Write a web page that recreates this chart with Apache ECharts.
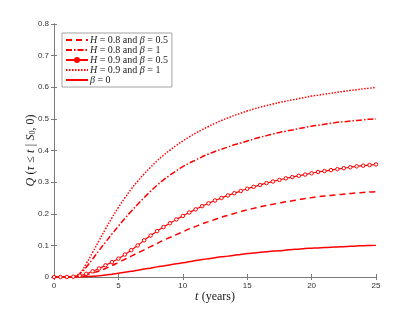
<!DOCTYPE html>
<html><head><meta charset="utf-8">
<script src="https://cdn.jsdelivr.net/npm/echarts@6/dist/echarts.min.js"></script>
<style>html,body{margin:0;padding:0;background:#fff}#c{width:415px;height:312px}</style>
</head><body><div id="c"></div>
<script>
const tYears = [0,0.5,1,1.5,2,2.5,3,3.5,4,4.5,5,5.5,6,6.5,7,7.5,8,8.5,9,9.5,10,10.5,11,11.5,12,12.5,13,13.5,14,14.5,15,15.5,16,16.5,17,17.5,18,18.5,19,19.5,20,20.5,21,21.5,22,22.5,23,23.5,24,24.5,25];
const seriesNames = ['H = 0.8 and β = 0.5','H = 0.8 and β = 1','H = 0.9 and β = 0.5','H = 0.9 and β = 1','β = 0'];
const qH08b05 = [0,0,0,0.001,0.003,0.007,0.013,0.019,0.027,0.036,0.046,0.056,0.066,0.076,0.086,0.096,0.106,0.116,0.125,0.134,0.143,0.152,0.16,0.168,0.175,0.182,0.189,0.195,0.201,0.207,0.212,0.217,0.222,0.226,0.23,0.234,0.238,0.241,0.245,0.248,0.251,0.254,0.256,0.258,0.26,0.262,0.264,0.266,0.267,0.269,0.27];
const qH08b1 = [0,0,0,0.001,0.01,0.031,0.057,0.084,0.11,0.136,0.161,0.185,0.208,0.23,0.251,0.271,0.29,0.307,0.322,0.336,0.349,0.36,0.37,0.38,0.389,0.397,0.404,0.411,0.418,0.424,0.43,0.436,0.442,0.447,0.452,0.457,0.461,0.465,0.469,0.473,0.477,0.48,0.483,0.486,0.489,0.491,0.493,0.495,0.497,0.499,0.5];
const qH09b05 = [0,0,0,0.001,0.004,0.01,0.018,0.027,0.037,0.047,0.058,0.071,0.085,0.1,0.116,0.131,0.145,0.158,0.17,0.182,0.193,0.204,0.214,0.224,0.233,0.242,0.25,0.258,0.265,0.272,0.279,0.285,0.291,0.297,0.302,0.307,0.312,0.316,0.32,0.324,0.328,0.332,0.335,0.338,0.341,0.344,0.347,0.35,0.352,0.354,0.356];
const qH09b1 = [0,0,0,0.001,0.012,0.042,0.078,0.115,0.152,0.187,0.22,0.25,0.278,0.303,0.326,0.347,0.367,0.385,0.401,0.416,0.43,0.443,0.455,0.466,0.476,0.486,0.495,0.503,0.511,0.518,0.525,0.531,0.537,0.542,0.547,0.552,0.556,0.56,0.564,0.568,0.572,0.575,0.578,0.581,0.584,0.587,0.59,0.592,0.595,0.597,0.6];
const qB0 = [0,0,0,0,0,0.001,0.002,0.004,0.006,0.009,0.012,0.015,0.018,0.021,0.025,0.028,0.032,0.035,0.038,0.042,0.045,0.048,0.052,0.055,0.058,0.061,0.064,0.066,0.069,0.071,0.074,0.076,0.078,0.08,0.082,0.083,0.085,0.087,0.088,0.09,0.091,0.092,0.093,0.094,0.095,0.096,0.097,0.098,0.099,0.0995,0.1];
const xTicks = [0,5,10,15,20,25];
const yTicks = [0,0.1,0.2,0.3,0.4,0.5,0.6,0.7,0.8];

const pairs = arr => tYears.map((t,i)=>[t,arr[i]]);
const RED = '#ff0000';
const serif = 'Liberation Serif';
const axisCol = '#7a7a7a';
const lblCol = '#333';

const chart = echarts.init(document.getElementById('c'), null, {renderer:'canvas'});
const baseAxis = {
  axisLine:{show:true, lineStyle:{color:axisCol, width:1}},
  axisTick:{show:true, inside:true, length:3, lineStyle:{color:axisCol}},
  splitLine:{show:false}
};
const legendRich = {
  i:{fontFamily:serif, fontStyle:'italic', fontSize:10, color:'#222', lineHeight:11},
  n:{fontFamily:serif, fontSize:10, color:'#222', lineHeight:11}
};
function legendFmt(name){
  return name.split(/(H|β)/).filter(s=>s.length).map(s=> (s==='H'||s==='β') ? '{i|'+s+'}' : '{n|'+s+'}').join('');
}
const hidden = {opacity:0};
chart.setOption({
  animation:false,
  backgroundColor:'#fff',
  grid:{left:54, right:39, top:24, bottom:35, containLabel:false},
  xAxis:[
    Object.assign({type:'value', min:0, max:25, interval:5, position:'bottom',
      axisLabel:{color:lblCol, fontSize:8, margin:5, fontFamily:'Liberation Sans'},
      name:'{i|t} {n|(years)}', nameLocation:'middle', nameGap:14, nameMoveOverlap:false,
      nameTextStyle:{rich:{i:{fontFamily:serif,fontStyle:'italic',fontSize:12,color:'#222'},n:{fontFamily:serif,fontSize:12,color:'#222'}}}
    }, baseAxis),
    Object.assign({type:'value', min:0, max:25, interval:5, position:'top', axisLabel:{show:false}}, baseAxis)
  ],
  yAxis:[
    Object.assign({type:'value', min:0, max:0.8, interval:0.1, position:'left',
      axisLabel:{color:lblCol, fontSize:8, margin:5, fontFamily:'Liberation Sans', formatter:v=>String(Math.round(v*10)/10)},
      name:'{i|Q} {n|(}{i|τ} {n|≤} {i|t} {n||} {i|S}{s|0}{n|, 0)}', nameLocation:'middle', nameGap:17, nameRotate:90, nameMoveOverlap:false,
      nameTextStyle:{rich:{i:{fontFamily:serif,fontStyle:'italic',fontSize:12,color:'#222'},n:{fontFamily:serif,fontSize:12,color:'#222'},s:{fontFamily:serif,fontSize:8,color:'#222',padding:[5,0,0,0]}}}
    }, baseAxis),
    Object.assign({type:'value', min:0, max:0.8, interval:0.1, position:'right', axisLabel:{show:false}}, baseAxis)
  ],
  legend:{
    orient:'vertical', left:62, top:33, itemGap:0, itemWidth:22, itemHeight:5,
    padding:[2,4,2,3], borderColor:'#8c8c8c', borderWidth:0.8, backgroundColor:'#fff',
    data:[
      {name:seriesNames[0], itemStyle:hidden},
      {name:seriesNames[1], itemStyle:hidden},
      {name:seriesNames[2], itemStyle:{color:RED, borderColor:RED}},
      {name:seriesNames[3], itemStyle:hidden},
      {name:seriesNames[4], itemStyle:hidden}
    ],
    formatter:legendFmt,
    textStyle:{rich:legendRich, padding:[0,0,0,-3]}
  },
  series:[
    {name:seriesNames[0], type:'line', data:pairs(qH08b05), symbol:'none', smooth:true,
      lineStyle:{color:RED, width:1.5, type:[6,4]}, itemStyle:{color:RED}},
    {name:seriesNames[1], type:'line', data:pairs(qH08b1), symbol:'none', smooth:true,
      lineStyle:{color:RED, width:1.5, type:[6,2,1.5,2]}, itemStyle:{color:RED}},
    {name:seriesNames[2], type:'line', data:pairs(qH09b05), symbol:'circle', symbolSize:3.5, smooth:true,
      lineStyle:{color:RED, width:1.2}, itemStyle:{color:'#fff', borderColor:RED, borderWidth:1}},
    {name:seriesNames[3], type:'line', data:pairs(qH09b1), symbol:'none', smooth:true,
      lineStyle:{color:RED, width:1.5, type:[1.5,1.5]}, itemStyle:{color:RED}},
    {name:seriesNames[4], type:'line', data:pairs(qB0), symbol:'none', smooth:true,
      lineStyle:{color:RED, width:1.5}, itemStyle:{color:RED}}
  ]
});
</script></body></html>
